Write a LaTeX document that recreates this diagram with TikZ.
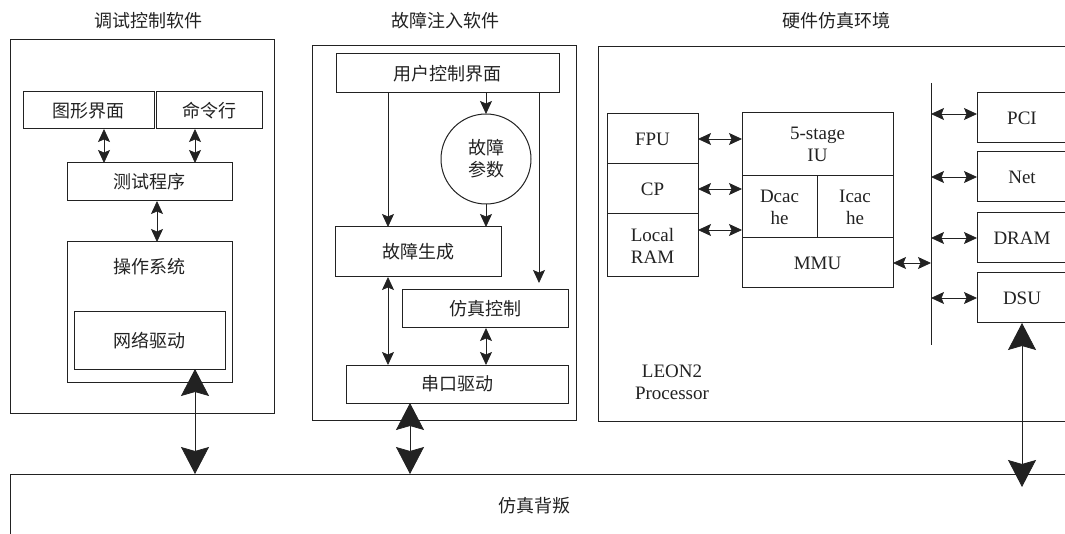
\documentclass[tikz,border=0pt]{standalone}
\usepackage{fontspec}
\setmainfont{Liberation Serif}
\newfontfamily\cjk{Noto Sans CJK SC}
\usetikzlibrary{arrows.meta}
\definecolor{ink}{HTML}{222222}
\tikzset{
  box/.style={draw=ink, line width=1pt, inner sep=0pt, outer sep=0pt},
  zh/.style={font=\cjk\fontsize{18}{22}\selectfont, text=ink, align=center},
  en/.style={font=\fontsize{19}{22}\selectfont, text=ink, align=center},
  tipS/.tip={Stealth[length=13pt,width=12pt,inset=2.5pt]},
  tipB/.tip={Stealth[length=27pt,width=28pt,inset=4pt]},
  sarr/.style={draw=ink, line width=0.8pt, -tipS},
  dsarr/.style={draw=ink, line width=0.8pt, tipS-tipS},
  dbarr/.style={draw=ink, line width=0.8pt, tipB-tipB},
}
\begin{document}
\begin{tikzpicture}[x=1pt,y=-1pt]
\useasboundingbox (0,0) rectangle (1065,534);
\clip (0,0) rectangle (1065,534);

% ---------- titles ----------
\node[zh] (t1) at (148,21) {调试控制软件};
\node[zh] (t2) at (445,21) {故障注入软件};
\node[zh] (t3) at (836,21) {硬件仿真环境};

% ---------- debug control software ----------
\node[box, minimum width=264pt, minimum height=373pt] (dbg) at (142,226.5) {};
\node[box, zh, minimum width=131pt, minimum height=37pt] (gui) at (88.5,110.5) {图形界面};
\node[box, zh, minimum width=106pt, minimum height=37pt] (cmd) at (209,110.5) {命令行};
\node[box, zh, minimum width=165pt, minimum height=38pt] (test) at (149.5,182) {测试程序};
\node[box, minimum width=165pt, minimum height=140pt] (os) at (149.5,312) {};
\node[zh] (osl) at (149.5,267) {操作系统};
\node[box, zh, minimum width=151pt, minimum height=57pt] (net) at (149.5,340.5) {网络驱动};

\draw[dsarr] (gui.south -| 104,0) -- (test.north -| 104,0);
\draw[dsarr] (cmd.south -| 195,0) -- (test.north -| 195,0);
\draw[dsarr] (test.south -| 157,0) -- (os.north -| 157,0);

% ---------- fault injection software ----------
\node[box, minimum width=264pt, minimum height=374pt] (fis) at (444,233) {};
\node[box, zh, minimum width=223pt, minimum height=39pt] (ui) at (447.5,73.5) {用户控制界面};
\node[box, circle, minimum size=90pt, zh] (fp) at (486,159) {故障\\参数};
\node[box, zh, minimum width=166pt, minimum height=50pt] (fgen) at (418,252) {故障生成};
\node[box, zh, minimum width=166pt, minimum height=38pt] (simctl) at (485.5,309) {仿真控制};
\node[box, zh, minimum width=222pt, minimum height=38pt] (serial) at (457,384) {串口驱动};
\coordinate (scin) at (539,283);

\draw[sarr] (ui.south -| 388,0) -- (fgen.north -| 388,0);
\draw[sarr] (ui.south -| fp.north) -- (fp.north);
\draw[sarr] (fp.south) -- (fp.south |- fgen.north);
\draw[sarr] (ui.south -| scin) -- (scin);
\draw[dsarr] (fgen.south -| 388,0) -- (serial.north -| 388,0);
\draw[dsarr] (simctl.south -| fp.south) -- (serial.north -| fp.south);

% ---------- hardware simulation environment ----------
\node[box, minimum width=482pt, minimum height=374pt, anchor=north west] (hw) at (598,47) {};

\node[box, en, minimum width=91pt, minimum height=50pt] (fpu) at (652.5,139) {FPU};
\node[box, en, minimum width=91pt, minimum height=50pt] (cp) at (652.5,189) {CP};
\node[box, en, minimum width=91pt, minimum height=63pt] (lram) at (652.5,245.5) {Local\\RAM};

\node[box, en, minimum width=151pt, minimum height=63pt] (iu) at (817.5,144.5) {5-stage\\IU};
\node[box, en, minimum width=75pt, minimum height=62pt] (dc) at (779.5,207) {Dcac\\he};
\node[box, en, minimum width=76pt, minimum height=62pt] (ic) at (855,207) {Icac\\he};
\node[box, en, minimum width=151pt, minimum height=50pt] (mmu) at (817.5,263) {MMU};

\draw[dsarr] (fpu.east) -- (fpu.east -| iu.west);
\draw[dsarr] (cp.east) -- (cp.east -| dc.west);
\draw[dsarr] ([yshift=15.5pt]lram.east) coordinate (lr) -- (lr -| dc.west);

\coordinate (bust) at (931,83);
\coordinate (busb) at (931,345);
\draw[ink, line width=1pt] (bust) -- (busb);
\draw[dsarr] (mmu.east) -- (mmu.east -| bust);

\node[box, en, minimum width=90pt, minimum height=50pt] (pci) at (1022,118) {PCI};
\node[box, en, minimum width=90pt, minimum height=50pt] (netb) at (1022,177) {Net};
\node[box, en, minimum width=90pt, minimum height=50pt] (dram) at (1022,238) {DRAM};
\node[box, en, minimum width=90pt, minimum height=50pt] (dsu) at (1022,298) {DSU};

\draw[dsarr] ([yshift=4pt]pci.west -| bust) coordinate (pb) -- (pb -| pci.west);
\draw[dsarr] (netb.west -| bust) -- (netb.west);
\draw[dsarr] (dram.west -| bust) -- (dram.west);
\draw[dsarr] (dsu.west -| bust) -- (dsu.west);

\node[en] (leon) at (672,382) {LEON2\\Processor};

% ---------- backplane ----------
\node[box, minimum width=1070pt, minimum height=90pt, anchor=north west] (bar) at (10,474) {};
\node[zh] (barl) at (534,506) {仿真背叛};

\draw[dbarr] (net.south -| 195,0) -- (bar.north -| 195,0);
\draw[dbarr] (serial.south -| 410,0) -- (bar.north -| 410,0);
\coordinate (dsuend) at (1022,487);
\draw[dbarr] (dsu.south) -- (dsuend);
\end{tikzpicture}
\end{document}
